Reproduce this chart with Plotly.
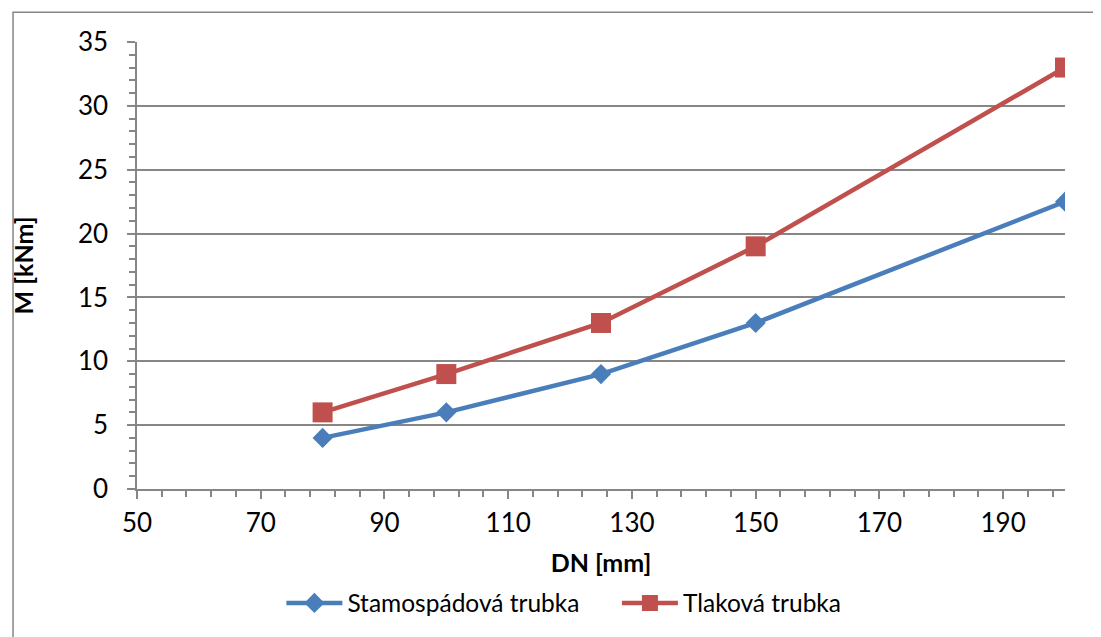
import plotly.graph_objects as go

dn = [80, 100, 125, 150, 200]
stamospadova = [4, 6, 9, 13, 22.5]
tlakova = [6, 9, 13, 19, 33]
series_names = ["Stamospádová trubka", "Tlaková trubka"]
x_title = "DN [mm]"
y_title = "M [kNm]"

FONT = "Lato"
OFF = 8  # page offset
W, H = 1101 - OFF, 637 - OFF
L, R, T, B = 133 - OFF, 1065 - OFF, 42 - OFF, 493 - OFF

fig = go.Figure()
fig.add_trace(go.Scatter(
    x=dn, y=stamospadova, name=series_names[0], mode="lines+markers",
    line=dict(color="#4A7EBB", width=4.5),
    marker=dict(symbol="diamond", size=15.5, color="#4A7EBB"),
    legend="legend",
))
fig.add_trace(go.Scatter(
    x=dn, y=tlakova, name=series_names[1], mode="lines+markers",
    line=dict(color="#C0504D", width=4.5),
    marker=dict(symbol="square", size=20, color="#C0504D"),
    legend="legend2",
))

def px_to_paper_x(p):
    return (p - OFF - L) / (R - L)

def px_to_paper_y(p):
    return (B - (p - OFF)) / (B - T)

fig.add_shape(type="rect", xref="paper", yref="paper",
              x0=px_to_paper_x(8.5), x1=px_to_paper_x(1120),
              y0=px_to_paper_y(660), y1=px_to_paper_y(12),
              line=dict(color="#868686", width=1.5), fillcolor="rgba(0,0,0,0)",
              layer="below")

legend_common = dict(orientation="h", xanchor="left", yanchor="middle",
                     y=px_to_paper_y(608), font=dict(family=FONT, size=24.5),
                     itemwidth=56, bgcolor="rgba(0,0,0,0)")

fig.update_layout(
    width=W, height=H,
    margin=dict(l=L, r=W - R, t=T, b=H - B, pad=0),
    paper_bgcolor="white", plot_bgcolor="white",
    font=dict(family=FONT, size=26, color="black"),
    showlegend=True,
    legend=dict(x=px_to_paper_x(278), **legend_common),
    legend2=dict(x=px_to_paper_x(615), **legend_common),
    xaxis=dict(
        range=[50, 200], dtick=20, tick0=50,
        showgrid=False, zeroline=False,
        showline=True, linecolor="#868686", linewidth=1.5,
        ticks="outside", ticklen=8, tickcolor="#868686", tickwidth=1.5,
        minor=dict(dtick=4, tick0=50, ticks="outside", ticklen=6,
                   tickcolor="#868686", tickwidth=1.5, showgrid=False),
        title=dict(text="<b>" + x_title + "</b>", font=dict(family=FONT, size=25), standoff=18),
        tickfont=dict(family=FONT, size=26),
        ticklabelstandoff=2,
    ),
    yaxis=dict(
        range=[0, 35], dtick=5,
        showgrid=True, gridcolor="#868686", gridwidth=1.5,
        zeroline=False,
        showline=True, linecolor="#868686", linewidth=1.5,
        ticks="outside", ticklen=8, tickcolor="#868686", tickwidth=1.5,
        minor=dict(dtick=1, ticks="outside", ticklen=6,
                   tickcolor="#868686", tickwidth=1.5, showgrid=False),
        title=dict(text="<b>" + y_title + "</b>", font=dict(family=FONT, size=25), standoff=40),
        tickfont=dict(family=FONT, size=26),
        ticklabelstandoff=14,
    ),
)

fig.write_html("out.html")
